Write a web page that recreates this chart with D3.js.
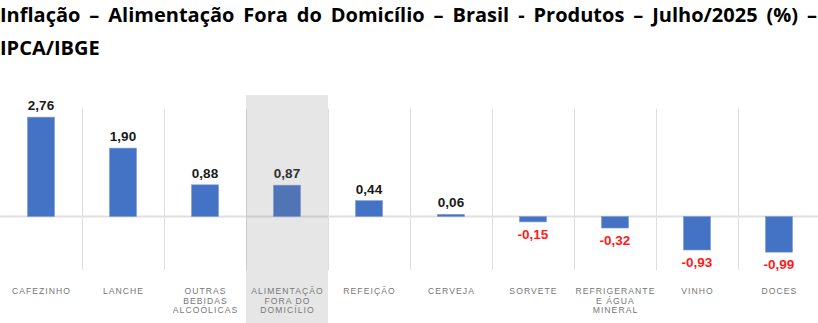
<!DOCTYPE html>
<html>
<head>
<meta charset="utf-8">
<script src="https://cdn.jsdelivr.net/npm/d3@7"></script>
<style>
  html, body { margin: 0; padding: 0; background: #fff; }
  svg { display: block; }
</style>
</head>
<body>
<svg id="chart" width="818" height="323"></svg>
<script>
// Inflação da alimentação fora do domicílio, julho/2025, por produto
const titleLines = [
  "Inflação – Alimentação Fora do Domicílio – Brasil - Produtos – Julho/2025 (%) –",
  "IPCA/IBGE"
];
const categories = [
  ["CAFEZINHO"],
  ["LANCHE"],
  ["OUTRAS", "BEBIDAS", "ALCOÓLICAS"],
  ["ALIMENTAÇÃO", "FORA DO", "DOMICÍLIO"],
  ["REFEIÇÃO"],
  ["CERVEJA"],
  ["SORVETE"],
  ["REFRIGERANTE", "E ÁGUA", "MINERAL"],
  ["VINHO"],
  ["DOCES"]
];
const values = [2.76, 1.90, 0.88, 0.87, 0.44, 0.06, -0.15, -0.32, -0.93, -0.99];
const highlightIndex = 3;

const svg = d3.select("#chart");
const keys = categories.map((c, i) => i);

const x = d3.scaleBand().domain(keys).range([0, 820]).paddingInner(0).paddingOuter(0);
const y = d3.scaleLinear().domain([-1.5, 3]).range([270.5, 108.5]);
const barW = 27;
const fmt = v => v.toFixed(2).replace(".", ",");

// Title, justified across the full width on the first line
const title = svg.append("g").attr("font-family", "'Open Sans', 'Noto Sans', sans-serif")
  .attr("font-weight", "700").attr("font-size", 20).attr("fill", "#000");
const t1 = title.append("text").attr("x", 0).attr("y", 22).text(titleLines[0]);
const natural = t1.node().getComputedTextLength();
const gaps = titleLines[0].split(" ").length - 1;
const extra = Math.max(0, (817 - natural) / gaps);
t1.attr("word-spacing", extra);
title.append("text").attr("x", 0).attr("y", 55).text(titleLines[1]);

// Vertical separators between categories
svg.append("g").selectAll("line")
  .data(d3.range(1, categories.length))
  .join("line")
  .attr("x1", d => x(d) + 0.5).attr("x2", d => x(d) + 0.5)
  .attr("y1", y(3)).attr("y2", y(-1.5))
  .attr("stroke", "#dedede").attr("stroke-width", 1);

// Zero baseline
svg.append("line")
  .attr("x1", 0).attr("x2", 818)
  .attr("y1", y(0)).attr("y2", y(0))
  .attr("stroke", "#e0e0e0").attr("stroke-width", 2);

// Bars
svg.append("g").selectAll("rect")
  .data(values)
  .join("rect")
  .attr("x", (d, i) => x(i) + x.bandwidth() / 2 - barW / 2)
  .attr("y", d => y(Math.max(0, d)))
  .attr("width", barW)
  .attr("height", d => Math.max(1.5, Math.abs(y(d) - y(0))))
  .attr("fill", "#4472c4")
  .attr("stroke", "#7d9bd4").attr("stroke-width", 0.6);

// Value labels
svg.append("g").selectAll("text")
  .data(values)
  .join("text")
  .attr("x", (d, i) => x(i) + x.bandwidth() / 2)
  .attr("y", d => d >= 0 ? y(d) - 7 : y(d) + 17)
  .attr("text-anchor", "middle")
  .attr("font-family", "'Liberation Sans', Arial, sans-serif")
  .attr("font-weight", "700").attr("font-size", 13.5)
  .attr("fill", d => d >= 0 ? "#1a1a1a" : "#ff1a1a")
  .text(d => fmt(d));

// Category labels
const cat = svg.append("g")
  .attr("font-family", "'Liberation Sans', Arial, sans-serif")
  .attr("font-size", 8.6).attr("fill", "#767676")
  .attr("letter-spacing", 1.05).attr("text-anchor", "middle");
cat.selectAll("text")
  .data(categories)
  .join("text")
  .each(function (lines, i) {
    const t = d3.select(this);
    lines.forEach((ln, j) => {
      t.append("tspan")
        .attr("x", x(i) + x.bandwidth() / 2 + 0.5)
        .attr("y", 294 + j * 9.7)
        .text(ln);
    });
  });

// Highlight band over the aggregate category
svg.append("rect")
  .attr("x", x(highlightIndex))
  .attr("y", 95)
  .attr("width", x.bandwidth())
  .attr("height", 228)
  .attr("fill", "#808080")
  .attr("opacity", 0.2);
</script>
</body>
</html>
